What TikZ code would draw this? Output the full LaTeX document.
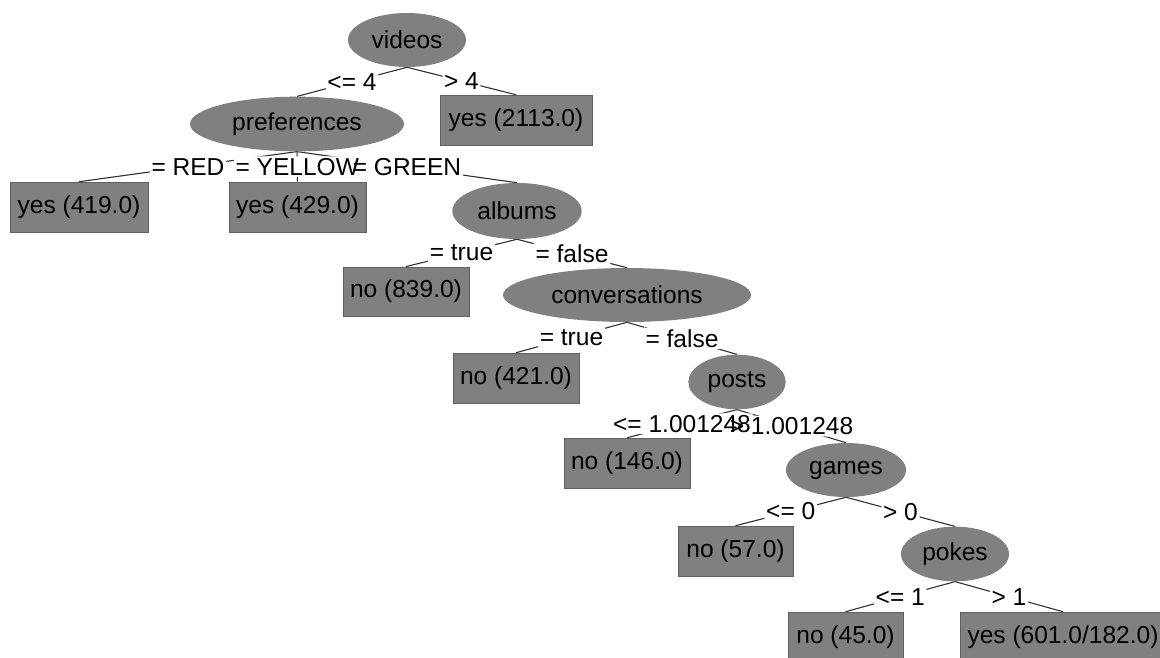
\documentclass[tikz,border=0pt]{standalone}
\usepackage{fontspec}
\setmainfont{Liberation Sans}
\usetikzlibrary{shapes.geometric}
\pgfdeclarelayer{edges}
\pgfdeclarelayer{fills}
\pgfsetlayers{edges,fills,main}

\begin{document}
\begin{tikzpicture}[x=0.75pt, y=-0.75pt, every node/.style={font=\fontsize{18.4}{22}\selectfont, inner sep=0pt},%
        split/.style={ellipse, fill=gray}, leaf/.style={rectangle, fill=gray, draw=gray!75!black, minimum height=37.5pt},%
        edge/.style={line width=0.75pt},%
        lbl/.style={inner sep=1pt, append after command={\pgfextra{\begin{pgfonlayer}{fills}\fill[white] (\tikzlastnode.south west) rectangle (\tikzlastnode.north east);\end{pgfonlayer}}}}]
    \useasboundingbox (0,0) rectangle (1160,657);
    \clip (0,0) rectangle (1160,657);
    % inner nodes
    \node[split, minimum width=88.5pt, minimum height=40.5pt] (videos) at (407,40) {videos};
    \node[split, minimum width=160.5pt, minimum height=41pt] (preferences) at (297,124) {preferences};
    \node[split, minimum width=97pt, minimum height=42pt] (albums) at (517,211) {albums};
    \node[split, minimum width=186pt, minimum height=40.5pt] (conversations) at (627,295) {conversations};
    \node[split, minimum width=73pt, minimum height=41pt] (posts) at (737,382) {posts};
    \node[split, minimum width=90pt, minimum height=40.5pt] (games) at (846,470) {games};
    \node[split, minimum width=81pt, minimum height=41pt] (pokes) at (955,554) {pokes};
    % leaves
    \node[leaf, minimum width=114pt] (yesA) at (516,120) {yes (2113.0)};
    \node[leaf, minimum width=103.5pt] (yesB) at (79,207) {yes (419.0)};
    \node[leaf, minimum width=103pt] (yesC) at (297.5,207) {yes (429.0)};
    \node[leaf, minimum width=94.5pt, minimum height=37pt] (noA) at (406,291.5) {no (839.0)};
    \node[leaf, minimum width=94.5pt] (noB) at (516,378) {no (421.0)};
    \node[leaf, minimum width=94.5pt] (noC) at (627,463) {no (146.0)};
    \node[leaf, minimum width=86pt] (noD) at (735.5,551) {no (57.0)};
    \node[leaf, minimum width=86pt] (noE) at (845.5,637) {no (45.0)};
    \node[leaf, minimum width=154.5pt] (yesD) at (1063,637) {yes (601.0/182.0)};
    % branches
    \foreach \from/\to/\test in {videos/preferences/{<= 4}, videos/yesA/{> 4},
            preferences/yesB/{= RED}, preferences/yesC/{= YELLOW}, preferences/albums/{= GREEN},
            albums/noA/{= true}, albums/conversations/{= false},
            conversations/noB/{= true}, conversations/posts/{= false},
            posts/noC/{<= 1.001248}, posts/games/{> 1.001248},
            games/noD/{<= 0}, games/pokes/{> 0},
            pokes/noE/{<= 1}, pokes/yesD/{> 1}}{
        \begin{pgfonlayer}{edges}
            \draw[edge] (\from.south) -- (\to.north);
        \end{pgfonlayer}
        \path (\from.south) -- node[lbl] {\test} (\to.north);
    }
\end{tikzpicture}
\end{document}
